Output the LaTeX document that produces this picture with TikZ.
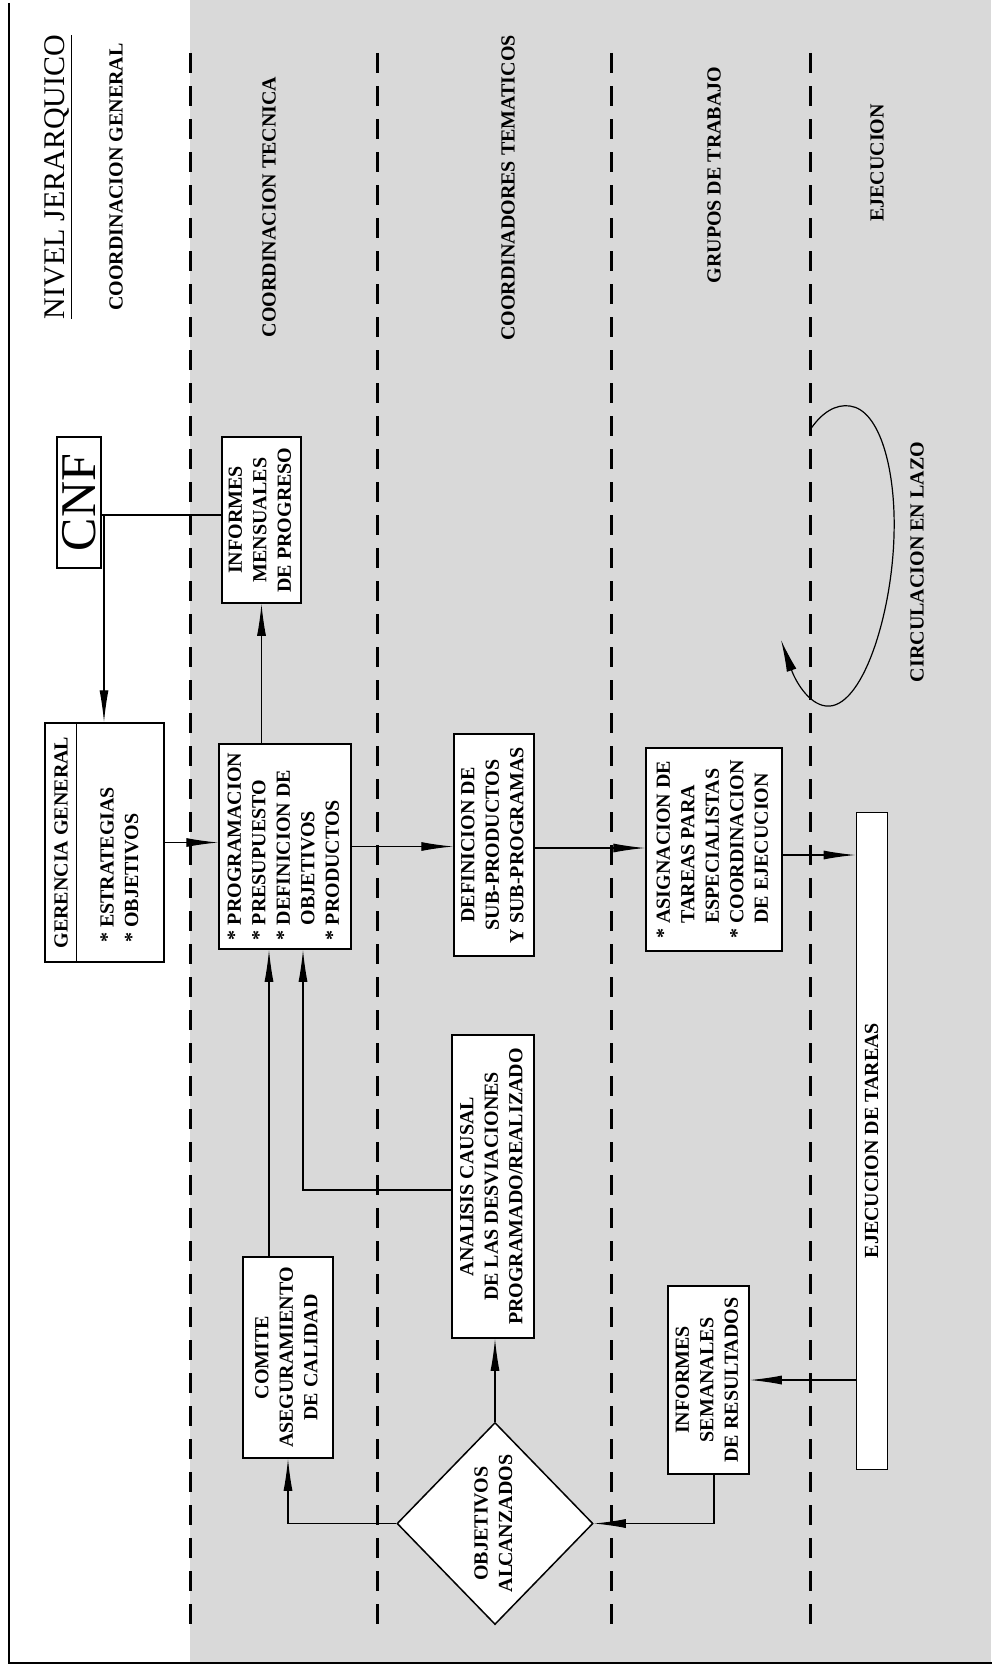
\documentclass[tikz,border=0pt]{standalone}
\usepackage{graphicx}
\usepackage{fontspec}
\setmainfont{Liberation Serif}
\usetikzlibrary{arrows.meta,shapes.geometric}
\newcommand\rotc[1]{\rotatebox{90}{\begin{tabular}{@{}c@{}}#1\end{tabular}}}
\newcommand\rotl[1]{\rotatebox{90}{\begin{tabular}{@{}l@{}}#1\end{tabular}}}
\newcommand\myind{\phantom{*\ }}
\newcommand\mystar{*\ }
\begin{document}
\begin{tikzpicture}[x=1pt,y=-1pt,
  txt/.style={font=\fontsize{20}{24.5}\selectfont\bfseries, inner sep=0pt},
  box/.style={draw, line width=1.5pt, fill=white, inner sep=0pt, font=\fontsize{20}{24.5}\selectfont\bfseries},
  lvl/.style={font=\fontsize{20}{24}\selectfont\bfseries, inner sep=0pt},
  conn/.style={line width=1.2pt},
  arr/.style={conn, -{Latex[length=32pt,width=9pt]}},
  lane/.style={line width=3pt, dash pattern=on 20pt off 13pt}
]
\useasboundingbox (0,0) rectangle (995,1670);
% background
\fill[black!15] (190,0) rectangle (991,1662);
\draw[line width=1.3pt] (9,3) -- (9,1663) -- (992,1663);
% lanes
\foreach \x in {190,377,611,810} \draw[lane] (\x,53) -- (\x,1627);

% level labels
\node[font=\fontsize{30}{30}\selectfont, inner sep=0pt] (title) at (58,177) {\rotatebox{90}{\underline{NIVEL JERARQUICO}}};
\node[lvl] (lg) at (116,177) {\rotatebox{90}{COORDINACION GENERAL}};
\node[lvl] (lt) at (269,207) {\rotatebox{90}{COORDINACION TECNICA}};
\node[lvl] (lc) at (508,188) {\rotatebox{90}{COORDINADORES TEMATICOS}};
\node[lvl] (lgt) at (714,175) {\rotatebox{90}{GRUPOS DE TRABAJO}};
\node[lvl] (le) at (877,163) {\rotatebox{90}{EJECUCION}};
\node[lvl] (ll) at (917,562) {\rotatebox{90}{CIRCULACION EN LAZO}};

% boxes
\node[box, minimum width=44pt, minimum height=131pt, font=\fontsize{50}{50}\selectfont] (cnf) at (79,502.5) {\rotatebox{90}{CNF}};
\node[box, minimum width=79pt, minimum height=166pt] (infm) at (261.5,520) {\rotc{INFORMES\\MENSUALES\\DE PROGRESO}};
\node[box, minimum width=119pt, minimum height=239pt] (ger) at (104.5,842.5) {};
\draw[line width=1.5pt] ([xshift=32pt]ger.north west) -- ([xshift=32pt]ger.south west);
\node[txt] (gert) at (61,842.5) {\rotatebox{90}{GERENCIA GENERAL}};
\node[txt, anchor=south] (gerl) at (121,943) {\rotl{\mystar ESTRATEGIAS\\ \mystar OBJETIVOS}};
\node[box, minimum width=132pt, minimum height=205pt] (prog) at (285,846.5) {\rotl{\mystar PROGRAMACION\\ \mystar PRESUPUESTO\\ \mystar DEFINICION DE\\ \myind OBJETIVOS\\ \mystar PRODUCTOS}};
\node[box, minimum width=80pt, minimum height=222pt] (def) at (494,845) {\rotc{DEFINICION DE\\SUB-PRODUCTOS\\Y SUB-PROGRAMAS}};
\node[box, minimum width=136pt, minimum height=203pt] (asig) at (714,849.5) {\rotl{\mystar ASIGNACION DE\\ \myind TAREAS PARA\\ \myind ESPECIA\kern-1.5pt LISTAS\\ \mystar COORDINACION\\ \myind DE EJECUCION}};
\node[box, line width=1pt, minimum width=31pt, minimum height=657pt] (ejec) at (871.5,1140.5) {\rotatebox{90}{EJECUCION DE TAREAS}};
\node[box, minimum width=81pt, minimum height=188pt] (infs) at (708.5,1380) {\rotc{INFORMES\\SEMANALES\\DE RESULTADOS}};
\node[box, minimum width=82pt, minimum height=303pt] (ana) at (493,1186.5) {\rotc{ANAL\kern-2.5pt ISIS CAUSAL\\DE LAS DESVIACIONES\\PROGRAMADO/REALIZADO}};
\node[box, minimum width=90pt, minimum height=201pt] (com) at (288,1357.5) {\rotc{COMITE\\ASEGURAMIENTO\\DE CALIDAD}};
\node[diamond, draw, line width=1.5pt, fill=white, minimum width=196pt, minimum height=202pt, inner sep=0pt] (dia) at (495,1523.5) {};
\node[txt] (diat) at (dia.center) {\rotc{OBJETIVOS\\AL\kern-2.5pt CANZADOS}};

% connectors
\coordinate (j1) at (104,515);
\draw[conn] (cnf.east |- j1) -- (infm.west |- j1);
\draw[arr] (j1) -- (j1 |- ger.north);
\draw[arr] (infm.south |- prog.north) -- (infm.south);
\draw[arr] (ger.east) -- (ger.east -| prog.west);
\draw[arr] (prog.east) -- (prog.east -| def.west);
\coordinate (c2) at (0,848);
\draw[arr] (def.east |- c2) -- (asig.west |- c2);
\coordinate (c3) at (0,855);
\draw[arr] (asig.east |- c3) -- (ejec.west |- c3);
\draw[arr] (ejec.west |- infs.east) -- (infs.east);
\coordinate (c4) at (714,0);
\draw[arr] (infs.south -| c4) |- (dia.east);
\draw[arr] (dia.north) -- (dia.north |- ana.south);
\draw[arr] (dia.west) -| (com.south);
\coordinate (c5) at (269,0);
\draw[arr] (com.north -| c5) -- (prog.south -| c5);
\coordinate (c6) at (303,1190);
\draw[arr] (ana.west |- c6) -| (prog.south -| c6);

% loop
\coordinate (ls) at (810,430);
\coordinate (le2) at (781,640);
\draw[conn, -{Latex[length=32pt,width=10pt]}] (ls) .. controls (822,412) and (836,404) .. (850,406) .. controls (880,410) and (896,470) .. (894,535) .. controls (892,615) and (862,710) .. (826,706) .. controls (808,704) and (795,680) .. (le2);
\end{tikzpicture}
\end{document}
